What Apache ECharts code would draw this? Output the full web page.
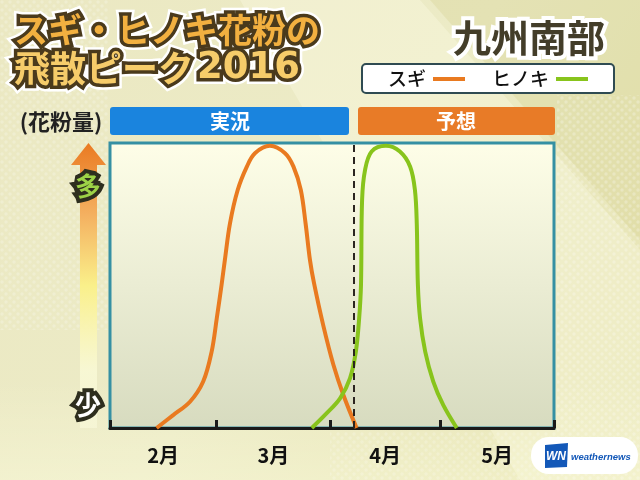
<!DOCTYPE html>
<html><head><meta charset="utf-8">
<script src="https://cdn.jsdelivr.net/npm/echarts@6/dist/echarts.min.js"></script>
<style>html,body{margin:0;padding:0;background:#e8e4b4;}#c{width:640px;height:480px;}</style>
</head><body><div id="c"></div>
<script>
// ---- data ----
const monthLabels = ['2月', '3月', '4月', '5月'];
const monthLabelPos = [14.5, 44.5, 75, 105.5];   // days from Feb 1 (centre of each month)
const monthTickPos = [0, 29, 60, 90, 121];       // month boundaries (2016)
const sugiDays   = [12.7, 17.3, 21.8, 25.4, 27.7, 29.1, 30.4, 31.3, 32.7, 34.8, 37.3, 39.5, 43.6, 47.7, 50, 52, 53.3, 54.5, 55.6, 58.1, 60.9, 63.6, 67.2];
const sugiValues = [0, 4.6, 9.2, 16.3, 26.8, 38.5, 50.2, 58.9, 71.8, 83.5, 91.7, 96.4, 99, 96.4, 91.7, 83.5, 71.8, 58.9, 50.8, 36.1, 22.1, 11.6, 0];
const hinokiDays   = [55, 59, 62.7, 65.4, 67, 67.9, 68.4, 68.7, 69.5, 71.3, 75.2, 79, 81.8, 83.1, 83.6, 83.9, 84.5, 85.9, 88.1, 90.8, 94.5];
const hinokiValues = [0, 5.1, 10.4, 17.4, 26.8, 38.5, 50.2, 80, 90.5, 97, 99, 97, 91.7, 83.5, 71.8, 50.5, 38.5, 26.8, 16.3, 8.1, 0];
const todayDay = 66.5;
const titleLine1 = 'スギ・ヒノキ花粉の';
const titleLine2 = '飛散ピーク';
const titleYear = '2016';
const regionName = '九州南部';
const seriesNames = ['スギ', 'ヒノキ'];
const bannerTexts = ['実況', '予想'];
const yTopLabel = '多', yBottomLabel = '少', yName = '(花粉量)';

const zip = (xs, ys) => xs.map((x, i) => [x, ys[i]]);
const FONT = '"Noto Sans CJK JP", "Noto Sans", sans-serif';
const ORANGE = '#e97a20', GREEN = '#88c41c';

// halftone dot pattern
const dotCanvas = document.createElement('canvas');
dotCanvas.width = 8; dotCanvas.height = 8;
(function () {
  const c = dotCanvas.getContext('2d');
  c.fillStyle = '#ffffff';
  [[2, 2], [6, 6]].forEach(p => { c.beginPath(); c.arc(p[0], p[1], 1.7, 0, Math.PI * 2); c.fill(); });
})();
const dots = { image: dotCanvas, repeat: 'repeat' };

const chart = echarts.init(document.getElementById('c'));

function outlinedText(text, x, y, font, fill, darkStroke, whiteW, darkW, extra) {
  const base = Object.assign({ text: text, font: font, textAlign: 'left', textVerticalAlign: 'middle' }, extra || {});
  const els = [];
  if (whiteW) els.push({ type: 'text', x: x, y: y, z: 100, silent: true,
    style: Object.assign({}, base, { fill: '#fff', stroke: '#ffffff', lineWidth: whiteW, lineJoin: 'round' }) });
  if (darkW) els.push({ type: 'text', x: x, y: y, z: 101, silent: true,
    style: Object.assign({}, base, { fill: darkStroke, stroke: darkStroke, lineWidth: darkW, lineJoin: 'round' }) });
  els.push({ type: 'text', x: x, y: y, z: 102, silent: true,
    style: Object.assign({}, base, { fill: fill }) });
  return els;
}

const graphics = [
  // background
  { type: 'rect', z: -20, silent: true, shape: { x: 0, y: 0, width: 640, height: 480 },
    style: { fill: new echarts.graphic.LinearGradient(0, 0, 1, 1, [
      { offset: 0, color: '#ebe8c2' }, { offset: 0.5, color: '#ecebc6' }, { offset: 1, color: '#e6e3b0' }]) } },
  { type: 'polygon', z: -19, silent: true,
    shape: { points: [[240, 0], [420, 0], [640, 250], [640, 480], [520, 480]] },
    style: { fill: 'rgba(255,255,235,0.3)' } },
  { type: 'polygon', z: -19, silent: true,
    shape: { points: [[430, 0], [640, 0], [640, 240]] },
    style: { fill: 'rgba(200,195,120,0.22)' } },
  { type: 'rect', z: -19, silent: true, shape: { x: 0, y: 380, width: 640, height: 100 },
    style: { fill: new echarts.graphic.LinearGradient(0, 0, 0, 1, [
      { offset: 0, color: 'rgba(255,255,225,0)' }, { offset: 1, color: 'rgba(255,255,225,0.35)' }]) } },
  // halftone dots
  { type: 'rect', z: -18, silent: true, shape: { x: 0, y: 0, width: 108, height: 330 }, style: { fill: dots, opacity: 0.22 } },
  { type: 'rect', z: -18, silent: true, shape: { x: 557, y: 95, width: 83, height: 385 }, style: { fill: dots, opacity: 0.25 } },
  { type: 'rect', z: -18, silent: true, shape: { x: 330, y: 432, width: 227, height: 48 }, style: { fill: dots, opacity: 0.2 } },

  // legend box
  { type: 'rect', z: 50, silent: true, shape: { x: 362, y: 64, width: 252, height: 29, r: 4 },
    style: { fill: '#ffffff', stroke: '#2f4b52', lineWidth: 2 } },
  { type: 'text', z: 51, x: 388, y: 79, silent: true,
    style: { text: seriesNames[0], font: '500 19px ' + FONT, fill: '#111', textAlign: 'left', textVerticalAlign: 'middle' } },
  { type: 'line', z: 51, silent: true, shape: { x1: 433, y1: 79, x2: 465, y2: 79 }, style: { stroke: ORANGE, lineWidth: 4 } },
  { type: 'text', z: 51, x: 492, y: 79, silent: true,
    style: { text: seriesNames[1], font: '500 19px ' + FONT, fill: '#111', textAlign: 'left', textVerticalAlign: 'middle' } },
  { type: 'line', z: 51, silent: true, shape: { x1: 556, y1: 79, x2: 588, y2: 79 }, style: { stroke: GREEN, lineWidth: 4 } },

  // (花粉量)
  { type: 'text', z: 51, x: 61, y: 122, silent: true,
    style: { text: yName, font: 'bold 22px ' + FONT, fill: '#222', textAlign: 'center', textVerticalAlign: 'middle' } },

  // banners
  { type: 'rect', z: 50, silent: true, shape: { x: 110, y: 107, width: 239, height: 28, r: 3 }, style: { fill: '#1a84de' } },
  { type: 'rect', z: 50, silent: true, shape: { x: 358, y: 107, width: 197, height: 28, r: 3 }, style: { fill: '#e87b27' } },
  { type: 'text', z: 51, x: 230, y: 121, silent: true,
    style: { text: bannerTexts[0], font: 'bold 20px ' + FONT, fill: '#fff', textAlign: 'center', textVerticalAlign: 'middle',
      textShadowColor: 'rgba(0,40,120,0.7)', textShadowOffsetX: 1, textShadowOffsetY: 2, textShadowBlur: 0 } },
  { type: 'text', z: 51, x: 456, y: 121, silent: true,
    style: { text: bannerTexts[1], font: 'bold 20px ' + FONT, fill: '#fff', textAlign: 'center', textVerticalAlign: 'middle',
      textShadowColor: 'rgba(150,40,0,0.8)', textShadowOffsetX: 1, textShadowOffsetY: 2, textShadowBlur: 0 } },

  // y arrow
  { type: 'polygon', z: 40, silent: true,
    shape: { points: [[88.5, 143], [106, 165], [97, 165], [97, 428], [80, 428], [80, 165], [71, 165]] },
    style: { fill: new echarts.graphic.LinearGradient(0, 0, 0, 1, [
      { offset: 0, color: '#ea7a22' }, { offset: 0.25, color: '#f4b060' }, { offset: 0.5, color: '#faf08a' },
      { offset: 0.8, color: 'rgba(250,250,215,0.8)' }, { offset: 1, color: 'rgba(250,250,220,0.6)' }]) } },

  // weathernews logo
  { type: 'rect', z: 50, silent: true, shape: { x: 531, y: 437, width: 107, height: 37, r: 18 }, style: { fill: '#ffffff' } },
  { type: 'polygon', z: 51, silent: true, shape: { points: [[545, 445], [568, 443], [567, 467], [545, 468]] }, style: { fill: '#1358b8' } },
  { type: 'text', z: 52, x: 556, y: 457, silent: true,
    style: { text: 'WN', font: 'italic bold 12px "Liberation Sans", sans-serif', fill: '#fff', textAlign: 'center', textVerticalAlign: 'middle' } },
  { type: 'text', z: 52, x: 571, y: 457, silent: true,
    style: { text: 'weathernews', font: 'italic bold 9.5px "Liberation Sans", sans-serif', fill: '#1358b8', textAlign: 'left', textVerticalAlign: 'middle' } }
];

// titles
graphics.push(...outlinedText(titleLine1, 14, 30, 'bold 34px ' + FONT, '#f2b040', '#4a3a1c', 12, 7));
graphics.push(...outlinedText(titleLine2, 14, 68, 'bold 36px ' + FONT, '#f6cc6a', '#4a3a1c', 12, 7));
graphics.push(...outlinedText(titleYear, 197, 68, 'bold 37px "DejaVu Sans", sans-serif', '#f6cc6a', '#4a3a1c', 12, 7));
graphics.push(...outlinedText(regionName, 453, 38, 'bold 38px ' + FONT, '#433d29', '#433d29', 8, 0));
graphics.push(...outlinedText(yTopLabel, 88, 186, 'bold 26px ' + FONT, '#9cd247', '#2e2e1e', 0, 8, { textAlign: 'center' }));
graphics.push(...outlinedText(yBottomLabel, 88, 405, 'bold 26px ' + FONT, '#ffffff', '#2e2e1e', 0, 8, { textAlign: 'center' }));

const option = {
  animation: false,
  backgroundColor: 'transparent',
  graphic: graphics,
  grid: {
    left: 110, right: 86, top: 143, bottom: 52,
    show: true, borderColor: '#3590a3', borderWidth: 3,
    backgroundColor: new echarts.graphic.LinearGradient(0, 0, 0, 1, [
      { offset: 0, color: '#fefee8' }, { offset: 1, color: '#d7dbbf' }])
  },
  xAxis: {
    type: 'value', min: 0, max: 121,
    splitLine: { show: false },
    axisLine: { show: true, lineStyle: { color: '#1a1a1a', width: 3 } },
    axisTick: { show: true, inside: true, length: 8, customValues: monthTickPos, lineStyle: { color: '#1a1a1a', width: 3 } },
    axisLabel: { show: true, customValues: monthLabelPos, margin: 17,
      formatter: v => monthLabels[monthLabelPos.indexOf(v)] || '',
      fontFamily: FONT, fontSize: 20, fontWeight: 'bold', color: '#111' }
  },
  yAxis: { type: 'value', min: 0, max: 100, show: false, splitLine: { show: false } },
  series: [
    { name: seriesNames[0], type: 'line', data: zip(sugiDays, sugiValues), smooth: 0.35,
      symbol: 'none', lineStyle: { color: ORANGE, width: 4 }, z: 3,
      markLine: { silent: true, symbol: 'none', label: { show: false },
        lineStyle: { color: '#2b2520', type: [7, 5], width: 2 }, data: [{ xAxis: todayDay }] } },
    { name: seriesNames[1], type: 'line', data: zip(hinokiDays, hinokiValues), smooth: 0.35,
      symbol: 'none', lineStyle: { color: GREEN, width: 4 }, z: 4 }
  ]
};
chart.setOption(option);
</script>
</body></html>
